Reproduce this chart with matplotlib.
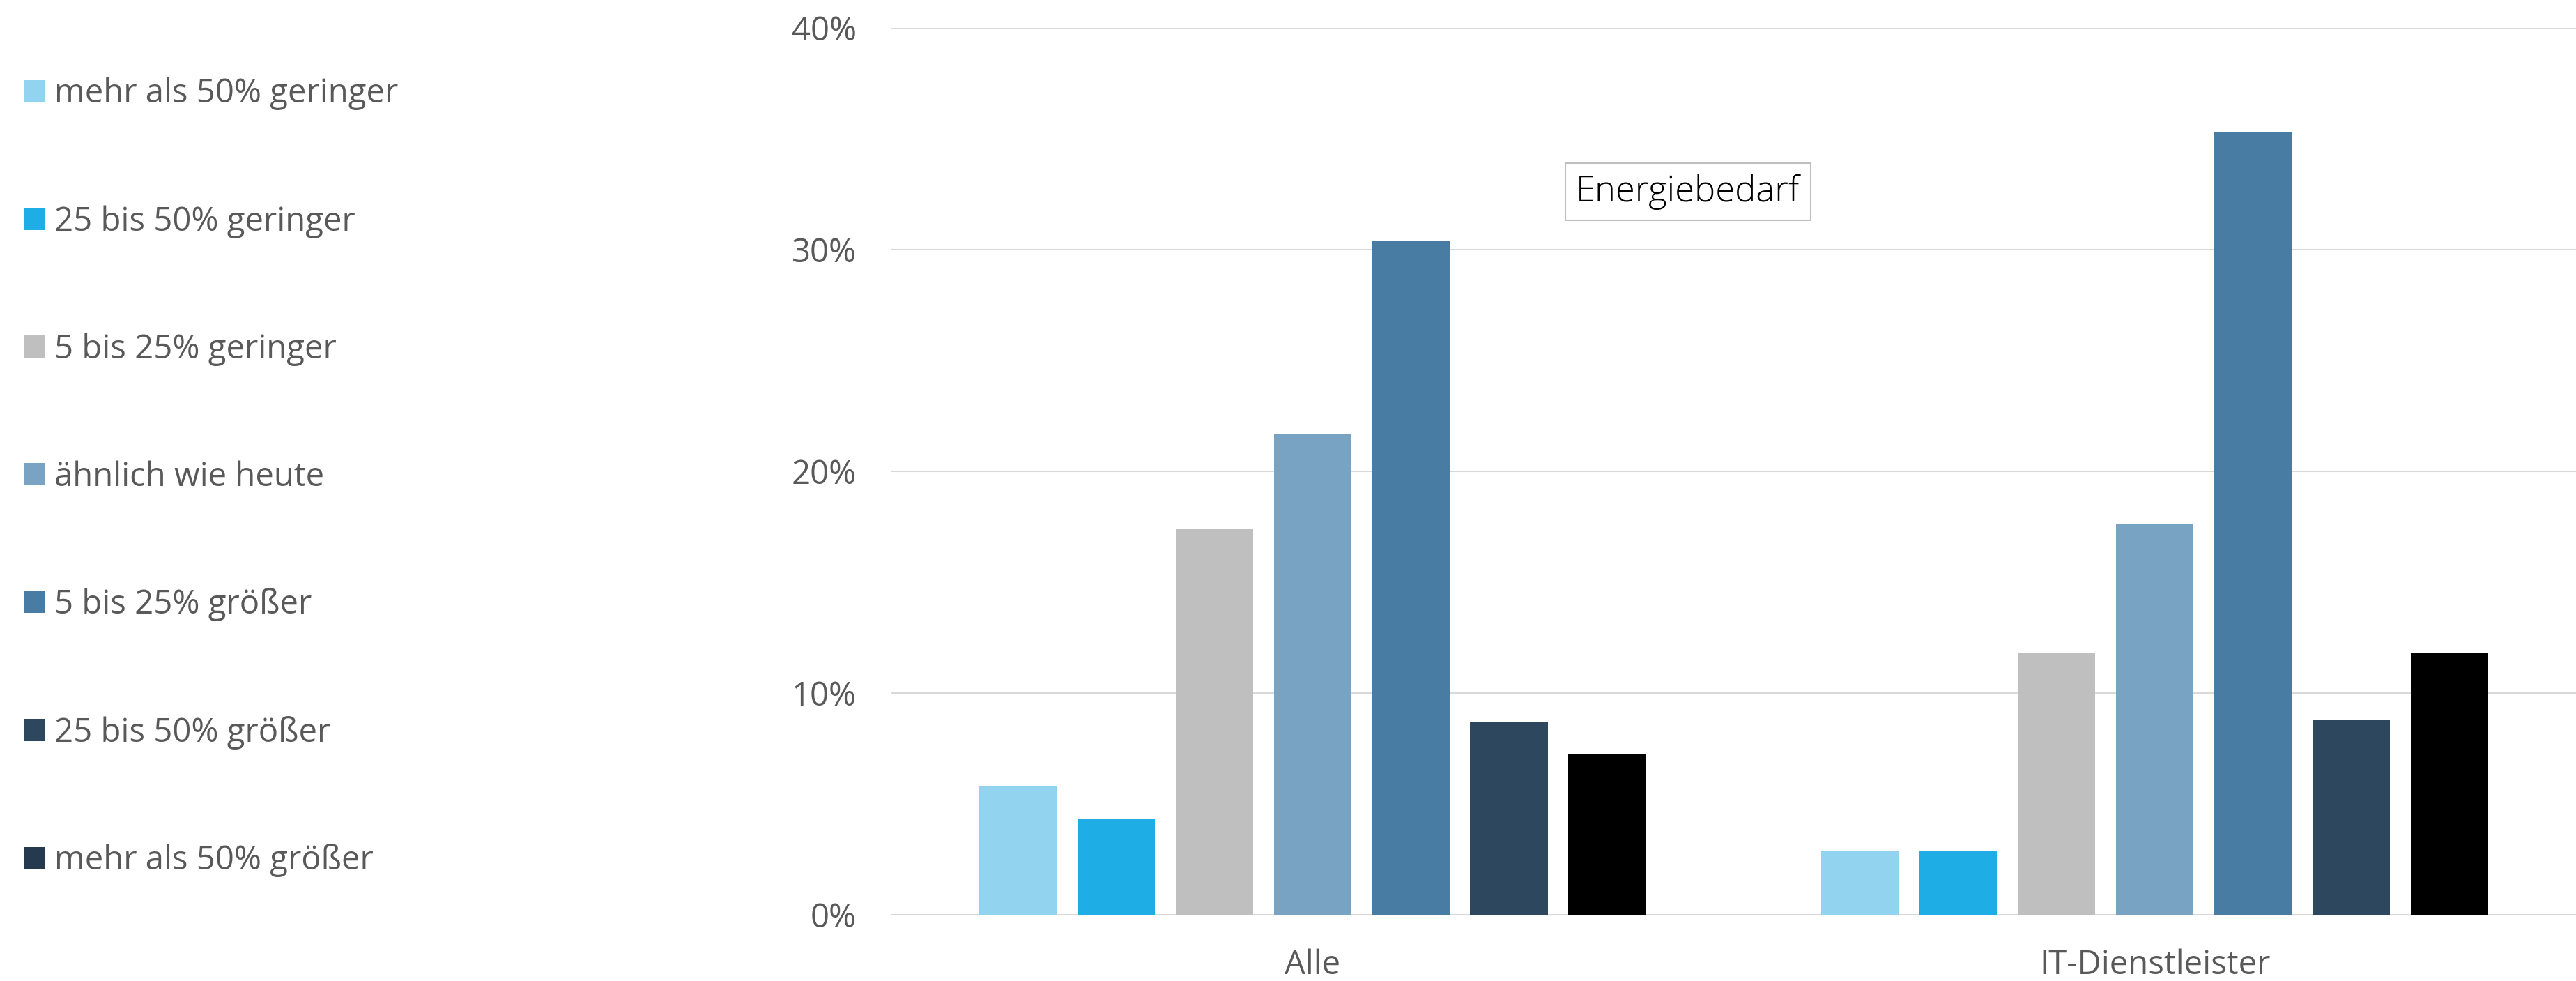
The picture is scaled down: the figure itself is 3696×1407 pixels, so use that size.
import matplotlib
matplotlib.use("Agg")
import matplotlib.pyplot as plt
from matplotlib.patches import Patch
from matplotlib.ticker import PercentFormatter
import numpy as np

# Energiebedarf nach Gruppe
categories = ["Alle", "IT-Dienstleister"]
series = ["mehr als 50% geringer", "25 bis 50% geringer", "5 bis 25% geringer",
          "ähnlich wie heute", "5 bis 25% größer", "25 bis 50% größer",
          "mehr als 50% größer"]
alle = [5.8, 4.35, 17.4, 21.7, 30.4, 8.7, 7.25]
it_dienst = [2.9, 2.9, 11.8, 17.6, 35.3, 8.8, 11.8]
values = np.array([alle, it_dienst]) / 100

colors = ["#92D4F0", "#1EADE4", "#BFBFBF", "#79A3C3", "#497CA2", "#2C475E", "#000000"]
legend_colors = colors[:6] + ["#263A4F"]

plt.rcParams['font.family'] = ['Open Sans', 'DejaVu Sans']
grau = "#595959"

fig = plt.figure(figsize=(36.96, 14.07), dpi=100)
ax = fig.add_axes([0.346, 0.0675, 0.654, 0.904])

x = np.arange(len(categories)) + 0.5
pitch = 0.1166
width = 0.092
for i, s in enumerate(series):
    off = (i - 3) * pitch
    ax.bar(x + off, values[:, i], width=width, color=colors[i], zorder=3)

ax.set_xlim(0, 2)
ax.set_ylim(0, 0.4)
ax.set_yticks([0, 0.1, 0.2, 0.3, 0.4])
ax.yaxis.set_major_formatter(PercentFormatter(1.0, decimals=0))
ax.set_xticks(x)
ax.set_xticklabels(categories)
ax.tick_params(axis="both", length=0, labelsize=34, colors=grau)
ax.tick_params(axis="y", pad=36)
ax.tick_params(axis="x", pad=35)
ax.grid(axis="y", color="#D9D9D9", linewidth=1.5, zorder=0)
for sp in ["top", "right", "left"]:
    ax.spines[sp].set_visible(False)
ax.spines["bottom"].set_color("#D9D9D9")
ax.spines["bottom"].set_linewidth(1.5)

fig.text(2422 / 3696, 1 - 275 / 1407, "Energiebedarf", fontsize=36.5, fontweight="light",
         color="black", ha="center", va="center",
         bbox=dict(boxstyle="square,pad=0.3", facecolor="white", edgecolor="#BFBFBF", linewidth=1.5))

handles = [Patch(facecolor=c, edgecolor="none") for c in legend_colors]
fig.legend(handles, series, loc="upper left", bbox_to_anchor=(34 / 3696, 1 - 111 / 1407),
           frameon=False, fontsize=34, labelcolor=grau, handlelength=0.64, handleheight=0.64,
           handletextpad=0.3, labelspacing=2.87, borderpad=0, borderaxespad=0)

fig.savefig("out.png", dpi=100)
